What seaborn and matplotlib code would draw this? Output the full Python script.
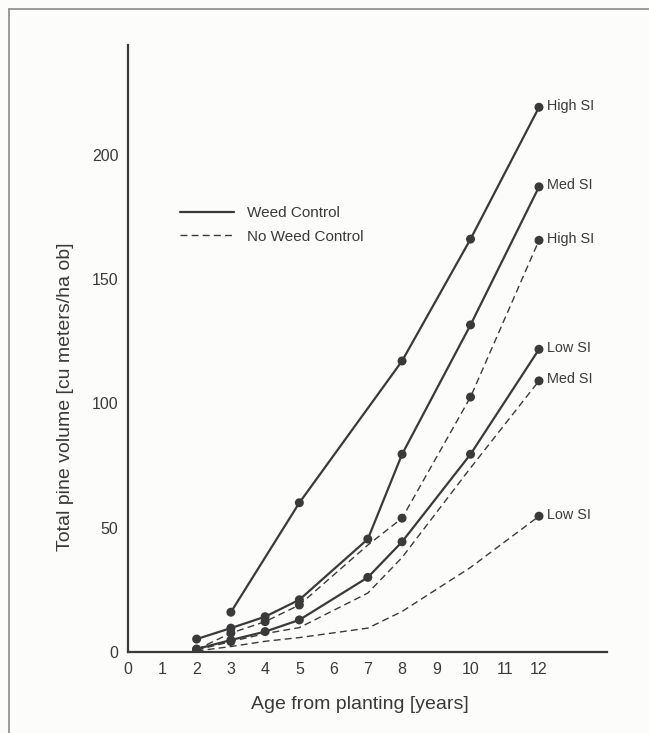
import matplotlib
matplotlib.use("Agg")
import matplotlib.pyplot as plt
import seaborn as sns
import pandas as pd
from matplotlib.lines import Line2D

# ---- data ----
wc_high_age = [3, 5, 8, 10, 12]
wc_high_vol = [16, 60, 117, 166, 219]

wc_med_age = [2, 3, 4, 5, 7, 8, 10, 12]
wc_med_vol = [5.2, 9.6, 14.2, 21, 45.4, 79.5, 131.5, 187]

wc_low_age = [2, 3, 4, 5, 7, 8, 10, 12]
wc_low_vol = [1.2, 4.8, 8.2, 12.9, 30, 44.3, 79.5, 121.7]

nwc_high_age = [2, 3, 4, 5, 7, 8, 10, 12]
nwc_high_vol = [1.0, 7.6, 12.2, 18.9, 43, 53.8, 102.5, 165.5]

nwc_med_age = [2, 3, 4, 5, 7, 8, 10, 12]
nwc_med_vol = [0.8, 4.2, 7.4, 9.8, 23.7, 38, 74, 109]

nwc_low_age = [2, 3, 4, 5, 7, 8, 10, 12]
nwc_low_vol = [0.4, 2.2, 4.3, 5.8, 9.6, 16.3, 34, 54.6]

series_names = ["WC High", "WC Med", "WC Low", "NWC High", "NWC Med", "NWC Low"]
end_labels = ["High SI", "Med SI", "Low SI", "High SI", "Med SI", "Low SI"]
treatment = ["Weed Control"] * 3 + ["No Weed Control"] * 3

x_ticks = list(range(0, 13))
y_ticks = [0, 50, 100, 150, 200]
x_label = "Age from planting [years]"
y_label = "Total pine volume [cu meters/ha ob]"

ages = [wc_high_age, wc_med_age, wc_low_age, nwc_high_age, nwc_med_age, nwc_low_age]
vols = [wc_high_vol, wc_med_vol, wc_low_vol, nwc_high_vol, nwc_med_vol, nwc_low_vol]

rows = []
for name, trt, a, v in zip(series_names, treatment, ages, vols):
    for ai, vi in zip(a, v):
        rows.append({"series": name, "treatment": trt, "age": ai, "vol": vi})
df = pd.DataFrame(rows)

# marker visibility (style): which ages show a dot per series
marker_ages = {
    "WC High": [3, 5, 8, 10, 12],
    "WC Med": [2, 3, 4, 5, 7, 8, 10, 12],
    "WC Low": [2, 3, 4, 5, 7, 8, 10, 12],
    "NWC High": [2, 3, 4, 5, 8, 10, 12],
    "NWC Med": [2, 3, 12],
    "NWC Low": [2, 12],
}

# ---- plot ----
sns.set_style("white")
plt.rcParams["font.family"] = ["Liberation Sans", "DejaVu Sans"]

ink = "#3a3a3a"
fig = plt.figure(figsize=(6.49, 7.33), dpi=100)
fig.patch.set_facecolor("#fcfcfb")
ax = fig.add_axes([0.1975, 0.1105, 0.7385, 0.828])
ax.set_facecolor("#fcfcfb")

dash_map = {"Weed Control": "", "No Weed Control": (5, 3)}
sns.lineplot(data=df, x="age", y="vol", units="series", estimator=None,
             style="treatment", dashes=dash_map, color=ink,
             ax=ax, legend=False, sort=False)
for ln in ax.get_lines():
    if ln.get_linestyle() in ("-", "solid"):
        ln.set_linewidth(1.6)
    else:
        ln.set_linewidth(1.0)

mk = df[df.apply(lambda r: r["age"] in marker_ages[r["series"]], axis=1)]
sns.scatterplot(data=mk, x="age", y="vol", color=ink, s=42, edgecolor="none",
                ax=ax, legend=False, zorder=5)

for name, lab, a, v in zip(series_names, end_labels, ages, vols):
    ax.annotate(lab, (a[-1], v[-1]), xytext=(6, 1), textcoords="offset points",
                ha="left", va="center", fontsize=10.4, color=ink)

ax.set_xlim(0, 14)
ax.set_ylim(0, 244)
ax.set_xticks(x_ticks)
ax.set_yticks(y_ticks)
ax.tick_params(axis="both", direction="out", length=4, width=1.2, color=ink,
               labelcolor=ink, labelsize=11.5, pad=3)
for s in ["top", "right"]:
    ax.spines[s].set_visible(False)
for s in ["left", "bottom"]:
    ax.spines[s].set_color(ink)
    ax.spines[s].set_linewidth(1.6)
ax.set_xlabel(x_label, fontsize=14, color=ink)
ax.set_ylabel(y_label, fontsize=14, color=ink)
ax.xaxis.set_label_coords(0.483, -0.072)
ax.yaxis.set_label_coords(-0.113, 0.42)

handles = [Line2D([0], [0], color=ink, lw=1.6, linestyle="-"),
           Line2D([0], [0], color=ink, lw=1.0, linestyle=(0, (5, 3)))]
leg = ax.legend(handles, ["Weed Control", "No Weed Control"], loc="upper left",
                bbox_to_anchor=(0.08, 0.757), frameon=False, fontsize=11,
                handlelength=3.5, handletextpad=0.9, labelspacing=0.62)
for t in leg.get_texts():
    t.set_color(ink)

# page frame (left and top borders)
fig.add_artist(Line2D([9 / 649, 9 / 649], [0, 1 - 9 / 733], transform=fig.transFigure,
                      color="#8a8a8a", lw=1.2))
fig.add_artist(Line2D([9 / 649, 1], [1 - 9 / 733, 1 - 9 / 733], transform=fig.transFigure,
                      color="#8a8a8a", lw=1.2))

fig.savefig("out.png", dpi=100, facecolor=fig.get_facecolor())
